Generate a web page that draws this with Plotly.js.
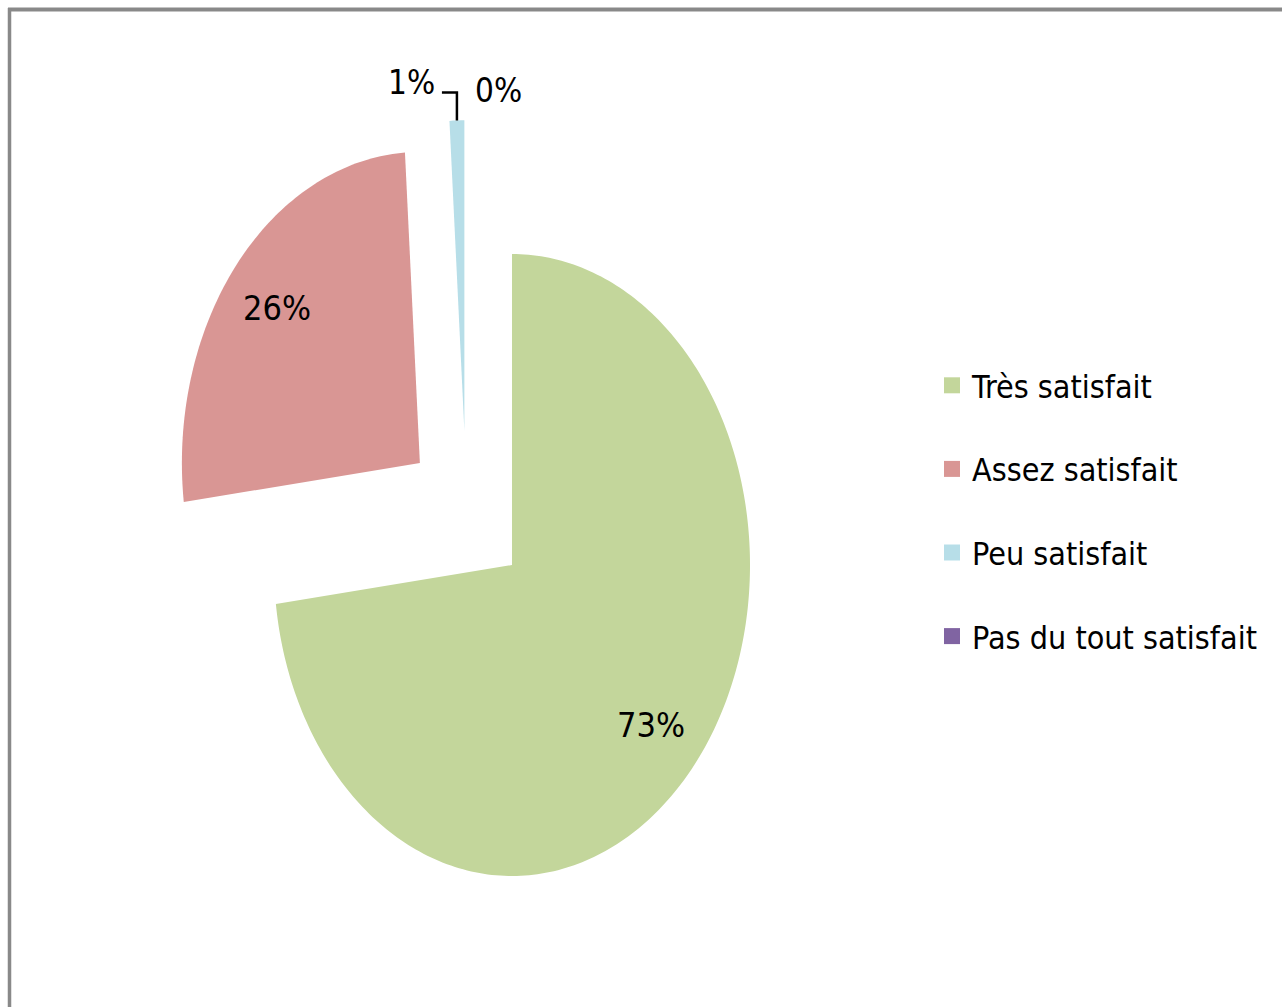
<!DOCTYPE html>
<html><head><meta charset="utf-8">
<script src="https://cdn.plot.ly/plotly-3.0.1.min.js"></script>
<style>html,body{margin:0;padding:0;background:#fff}</style>
</head><body>
<div id="chart" style="width:1282px;height:1007px"></div>
<script>
// ---- data ----
const categories = ['Très satisfait', 'Assez satisfait', 'Peu satisfait', 'Pas du tout satisfait'];
const percentages = [73, 26, 1, 0];
const colors = ['#C3D69B', '#D99694', '#B7DEE8', '#8064A2'];

// ---- style ----
const W = 1282, H = 1007;
const cx = 512, cy = 565, rx = 238, ry = 311;       // pie centre / radii in px
const explode = [[0, 0], [-0.387, 0.328], [-0.2, 0.43], [0, 0]]; // slice offsets (radius units)
const labelR = 0.78;
const FONT = '"DejaVu Sans Condensed", "Liberation Sans Narrow", "Arial Narrow", sans-serif';

const total = percentages.reduce((a, b) => a + b, 0);
const traces = [];
const annotations = [];
let start = 0;
let leaderPts = null;
percentages.forEach((v, i) => {
  const span = v / total * 2 * Math.PI;
  const a0 = start, a1 = start + span;
  start = a1;
  const [dx, dy] = explode[i];
  const mid = (a0 + a1) / 2;
  if (span > 0) {
    const n = Math.max(2, Math.ceil(span / (Math.PI / 180)));
    const xs = [dx], ys = [dy];
    for (let k = 0; k <= n; k++) {
      const a = a0 + span * k / n;
      xs.push(dx + Math.sin(a));
      ys.push(dy + Math.cos(a));
    }
    xs.push(dx); ys.push(dy);
    traces.push({
      type: 'scatter', mode: 'none', x: xs, y: ys, fill: 'toself',
      fillcolor: colors[i], line: {width: 0}, showlegend: false, hoverinfo: 'skip'
    });
  }
  const txt = Math.round(v / total * 100) + '%';
  if (v / total > 0.05) {
    annotations.push({
      x: dx + labelR * Math.sin(mid), y: dy + labelR * Math.cos(mid),
      xref: 'x', yref: 'y', text: txt, showarrow: false,
      font: {family: FONT, size: 34, color: '#000'}
    });
  } else if (span > 0) {
    // small slice: outside label with elbow leader line
    const ox = dx + Math.sin(mid), oy = dy + Math.cos(mid);
    const up = 28 / ry, left = 15 / rx;
    leaderPts = {x: [ox, ox, ox - left], y: [oy, oy + up, oy + up]};
    traces.push({
      type: 'scatter', mode: 'lines', x: leaderPts.x, y: leaderPts.y,
      line: {color: '#000', width: 2.5}, showlegend: false, hoverinfo: 'skip'
    });
    annotations.push({
      x: ox - left, y: oy + up, xref: 'x', yref: 'y', text: txt, showarrow: false,
      xanchor: 'right', yanchor: 'middle', xshift: -5, yshift: 10,
      font: {family: FONT, size: 33, color: '#000'}
    });
  } else {
    // zero slice label placed to the right of the leader elbow
    const bx = leaderPts ? leaderPts.x[1] : dx, by = leaderPts ? leaderPts.y[1] : dy + 1;
    annotations.push({
      x: bx, y: by, xref: 'x', yref: 'y', text: txt, showarrow: false,
      xanchor: 'left', yanchor: 'middle', xshift: 16, yshift: 2,
      font: {family: FONT, size: 33, color: '#000'}
    });
  }
});

// legend entries
categories.forEach((c, i) => {
  traces.push({
    type: 'scatter', mode: 'markers', x: [null], y: [null], name: c,
    legendgroup: 'g' + i,
    marker: {symbol: 'square', size: 20, color: colors[i]}, hoverinfo: 'skip'
  });
});

const layout = {
  width: W, height: H,
  margin: {l: 0, r: 0, t: 0, b: 0},
  paper_bgcolor: '#fff', plot_bgcolor: '#fff',
  xaxis: {range: [-cx / rx, (W - cx) / rx], visible: false, fixedrange: true},
  yaxis: {range: [-(H - cy) / ry, cy / ry], visible: false, fixedrange: true},
  showlegend: true,
  legend: {
    x: 932 / W, y: 1 - 358 / H, xanchor: 'left', yanchor: 'top',
    font: {family: FONT, size: 32, color: '#000'},
    tracegroupgap: 39, bgcolor: 'rgba(0,0,0,0)'
  },
  annotations: annotations,
  shapes: [
    {type: 'line', xref: 'paper', yref: 'paper', x0: 8 / W, x1: 1.01, y0: 1 - 9.5 / H, y1: 1 - 9.5 / H,
     line: {color: '#898989', width: 4}},
    {type: 'line', xref: 'paper', yref: 'paper', x0: 9.5 / W, x1: 9.5 / W, y0: 1 - 8 / H, y1: -0.01,
     line: {color: '#898989', width: 3.5}}
  ]
};

Plotly.newPlot('chart', traces, layout, {displayModeBar: false, staticPlot: true});
</script>
</body></html>
